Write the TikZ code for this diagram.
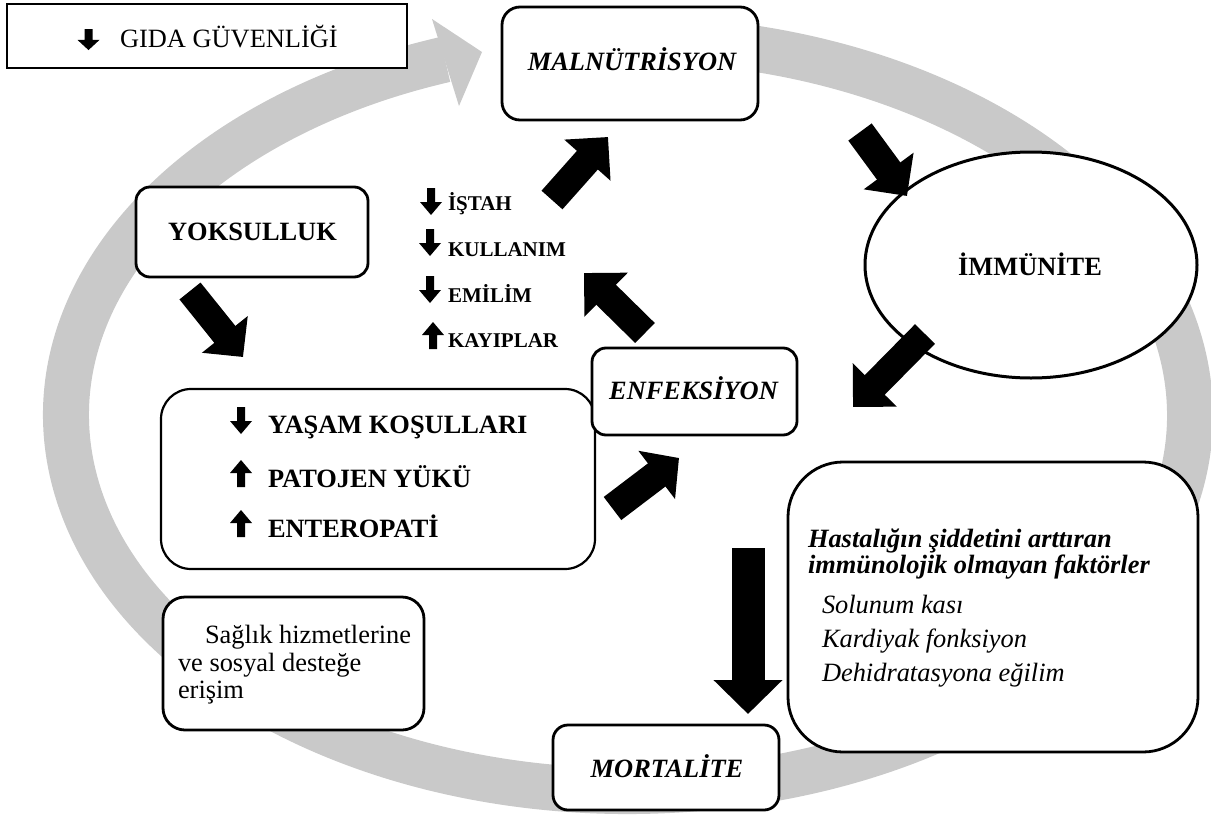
\documentclass[tikz,border=0pt]{standalone}
\usepackage{fontspec}
\setmainfont{Liberation Serif}
\usetikzlibrary{arrows.meta,shapes.geometric}
\begin{document}
\begin{tikzpicture}[x=1pt,y=-1pt,
  every node/.style={inner sep=0pt,outer sep=0pt},
  box/.style={draw,fill=white,line width=2.8pt,rounded corners=#1},
  box/.default=15pt,
  big/.style={font=\fontsize{26.4}{30}\selectfont},
  small/.style={font=\fontsize{21}{24}\selectfont\bfseries},
  blk/.style={line width=#1, -{Triangle[length=31pt,width=60pt]}},
  blk/.default=28pt,
  dnglyph/.pic={\fill (-4,0) -- (4,0) -- (4,14) -- (11,14) -- (0,27) -- (-11,14) -- (-4,14) -- cycle;},
  upglyph/.pic={\fill (0,0) -- (11,13) -- (4,13) -- (4,27) -- (-4,27) -- (-4,13) -- (-11,13) -- cycle;}
]
\useasboundingbox (0,0) rectangle (1211,817);
% gray circular arrow
\draw[black!21,line width=46pt] (559.5,41.8) arc[start angle=-97,end angle=251,x radius=562,y radius=376];
\fill[black!21] (432,19) -- (482,52) -- (459,106) -- cycle;

% boxes
\node[draw,fill=white,line width=2.4pt,minimum width=400pt,minimum height=64pt] (gida) at (207,36) {};
\node[box=18pt,minimum width=256pt,minimum height=113pt] (mal) at (630,63.5) {};
\node[draw,fill=white,line width=3pt,ellipse,minimum width=332pt,minimum height=226pt] (imm) at (1031,265) {};
\node[box=14pt,minimum width=232pt,minimum height=90pt] (yok) at (252,232) {};
\node[box=30pt,line width=2.2pt,minimum width=434pt,minimum height=180pt] (yas) at (378,479) {};
\node[box=14pt,minimum width=205pt,minimum height=87pt] (enf) at (694.5,391.5) {};
\node[box=22pt,minimum width=261pt,minimum height=133pt] (sag) at (293.5,663.5) {};
\node[box=15pt,minimum width=226pt,minimum height=85pt] (mor) at (666,767.5) {};
\node[box=55pt,minimum width=410pt,minimum height=290pt] (has) at (993,607) {};

% texts
\pic[yscale=0.78] at (88.5,29) {dnglyph};
\node[big,anchor=base west] (tgida) at (120,47) {GIDA GÜVENLİĞİ};
\node[big,font=\fontsize{26.4}{30}\selectfont\bfseries\itshape,anchor=base] (tmal) at (632,70) {MALNÜTRİSYON};
\node[big,font=\fontsize{26.4}{30}\selectfont\bfseries,anchor=base] (timm) at (1030,275) {İMMÜNİTE};
\node[big,font=\fontsize{26.4}{30}\selectfont\bfseries,anchor=base] (tyok) at (252.5,240) {YOKSULLUK};
\node[big,font=\fontsize{26.4}{30}\selectfont\bfseries\itshape,anchor=base] (tenf) at (693.5,399) {ENFEKSİYON};
\node[big,font=\fontsize{26.4}{30}\selectfont\bfseries\itshape,anchor=base] (tmor) at (667,777) {MORTALİTE};

\pic at (431,188) {dnglyph};
\node[small,anchor=base west] (l1) at (448,210) {İŞTAH};
\pic at (430,229) {dnglyph};
\node[small,anchor=base west] (l2) at (448,256) {KULLANIM};
\pic at (430,276) {dnglyph};
\node[small,anchor=base west] (l3) at (448,302) {EMİLİM};
\pic at (433,322) {upglyph};
\node[small,anchor=base west] (l4) at (448,347) {KAYIPLAR};

\pic at (241,407) {dnglyph};
\node[big,font=\fontsize{26.4}{30}\selectfont\bfseries,anchor=base west] (y1) at (268,433) {YAŞAM KOŞULLARI};
\pic at (241,460) {upglyph};
\node[big,font=\fontsize{26.4}{30}\selectfont\bfseries,anchor=base west] (y2) at (268,487) {PATOJEN YÜKÜ};
\pic at (241,510) {upglyph};
\node[big,font=\fontsize{26.4}{30}\selectfont\bfseries,anchor=base west] (y3) at (268,537) {ENTEROPATİ};

\node[big,anchor=base west] (s1) at (205,643) {Sağlık hizmetlerine};
\node[big,anchor=base west] (s2) at (178,671) {ve sosyal desteğe};
\node[big,anchor=base west] (s3) at (178,698) {erişim};

\node[big,font=\fontsize{26.4}{30}\selectfont\bfseries\itshape,anchor=base west] (h1) at (808,547) {Hastalığın şiddetini arttıran};
\node[big,font=\fontsize{26.4}{30}\selectfont\bfseries\itshape,anchor=base west] (h2) at (808,573) {immünolojik olmayan faktörler};
\node[big,font=\fontsize{26.4}{30}\selectfont\itshape,anchor=base west] (h3) at (822,613) {Solunum kası};
\node[big,font=\fontsize{26.4}{30}\selectfont\itshape,anchor=base west] (h4) at (822,647) {Kardiyak fonksiyon};
\node[big,font=\fontsize{26.4}{30}\selectfont\itshape,anchor=base west] (h5) at (822,681) {Dehidratasyona eğilim};

% black arrows
\coordinate (a1s) at (552,200); \coordinate (a1e) at (608,137);
\coordinate (a2s) at (860,132); \coordinate (a2e) at (907,196);
\coordinate (a3s) at (925,334); \coordinate (a3e) at (853,407);
\coordinate (a4s) at (645,333); \coordinate (a4e) at (584,273);
\coordinate (a5s) at (612.5,508.5); \coordinate (a5e) at (679,458);
\coordinate (a6s) at (190,291); \coordinate (a6e) at (243,357);
\coordinate (a7s) at (748,548); \coordinate (a7e) at (748,714);
\draw[blk] (a1s) -- (a1e);
\draw[blk=29pt] (a2s) -- (a2e);
\draw[blk] (a3s) -- (a3e);
\draw[blk] (a4s) -- (a4e);
\draw[blk=29pt,-{Triangle[length=28pt,width=59pt]}] (a5s) -- (a5e);
\draw[blk=27pt,-{Triangle[length=29pt,width=57pt]}] (a6s) -- (a6e);
\draw[blk=33pt,-{Triangle[length=34pt,width=67pt]}] (a7s) -- (a7e);
\end{tikzpicture}
\end{document}
